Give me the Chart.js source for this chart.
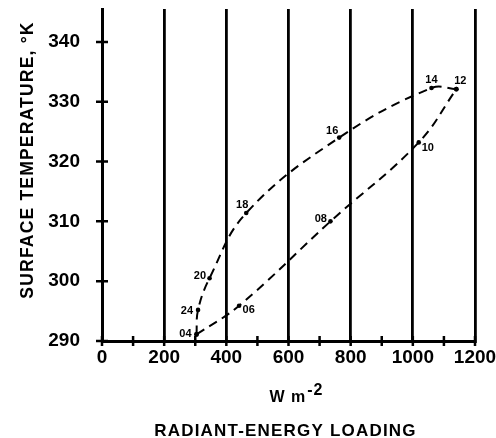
<!DOCTYPE html>
<html>
<head>
<meta charset="utf-8">
<script src="https://cdn.jsdelivr.net/npm/chart.js@4.4.1/dist/chart.umd.min.js"></script>
<style>
html,body{margin:0;padding:0;background:#fff;}
</style>
</head>
<body>
<canvas id="chart" width="496" height="438"></canvas>
<script>
// hour of day, radiant-energy loading (W m-2), surface temperature (K)
var hours=['04','06','08','10','12','14','16','18','20','24'],
    loading=[304,441,735,1019,1140,1060,763,464,346,309],
    surfaceTemp=[291.1,295.9,310.0,323.2,332.1,332.3,324.0,311.4,300.5,295.2],
    xTicks=[0,200,400,600,800,1000,1200],
    xMinorTicks=[100,300,500,700,900,1100],
    yTicks=[290,300,310,320,330,340];

// where each hour label sits next to its dot: dx, dy, align
var labelSpots={
    '04':[-5,0,'right'],'24':[-5,1.5,'right'],'20':[-3.5,-2.5,'right'],
    '18':[-4,-8,'center'],'06':[3.5,4,'left'],'08':[-3.5,-2.5,'right'],
    '10':[3,5.5,'left'],'12':[4,-8,'center'],'14':[0,-8,'center'],'16':[-7,-7,'center']
};

var font='"Liberation Sans", Arial, sans-serif';

var segment=function(idx){
    return idx.map(function(i){return {x:loading[i],y:surfaceTemp[i]};});
};
var lineStyle=function(data){
    return {
        data:data,showLine:true,tension:0.4,
        borderColor:'#000',borderWidth:2,borderDash:[9,6],
        pointRadius:2.3,pointBackgroundColor:'#000',pointBorderWidth:0
    };
};

var extras={
    id:'extras',
    afterDraw:function(chart){
        var ctx=chart.ctx,a=chart.chartArea,xs=chart.scales.x,ys=chart.scales.y;
        ctx.save();
        ctx.strokeStyle='#000';
        ctx.lineWidth=2.5;
        ctx.beginPath();
        xTicks.concat(xMinorTicks).forEach(function(v){
            var px=xs.getPixelForValue(v);
            ctx.moveTo(px,a.bottom-5);ctx.lineTo(px,a.bottom+5);
        });
        yTicks.forEach(function(v){
            var py=ys.getPixelForValue(v);
            ctx.moveTo(a.left-6,py);ctx.lineTo(a.left+6,py);
        });
        ctx.stroke();

        // hour labels
        ctx.fillStyle='#000';
        ctx.font='bold 11px '+font;
        ctx.textBaseline='middle';
        hours.forEach(function(h,i){
            var s=labelSpots[h];
            ctx.textAlign=s[2];
            ctx.fillText(h,xs.getPixelForValue(loading[i])+s[0],ys.getPixelForValue(surfaceTemp[i])+s[1]);
        });

        // axis titles
        var cx=(a.left+a.right)/2;
        ctx.textBaseline='alphabetic';
        ctx.letterSpacing='1.2px';
        ctx.font='bold 17px '+font;
        ctx.textAlign='center';
        ctx.fillText('RADIANT-ENERGY LOADING',cx-3,436);

        ctx.font='bold 16px '+font;
        ctx.letterSpacing='1px';
        var unit='W m',sup='-2';
        var w1=ctx.measureText(unit).width,w2=ctx.measureText(sup).width;
        var x0=cx+7.5-(w1+w2)/2;
        ctx.textAlign='left';
        ctx.fillText(unit,x0,401.5);
        ctx.fillText(sup,x0+w1+1,395);

        ctx.translate(33,160);
        ctx.rotate(-Math.PI/2);
        ctx.font='bold 17.5px '+font;
        ctx.letterSpacing='1.2px';
        ctx.textAlign='center';
        ctx.fillText('SURFACE TEMPERATURE, \u00b0K',0,0);
        ctx.restore();
    }
};

var tickFont={family:font,size:19,weight:'bold'};
var plain=function(v){return String(v);};

new Chart(document.getElementById('chart'),{
    type:'scatter',
    data:{
        datasets:[
            lineStyle(segment([0,1,2,3,4])),
            lineStyle(segment([4,5,6,7,8,9,0]))
        ]
    },
    options:{
        responsive:false,
        animation:false,
        devicePixelRatio:1,
        layout:{padding:{top:9,left:0,right:0,bottom:0}},
        plugins:{legend:{display:false},tooltip:{enabled:false}},
        scales:{
            x:{
                type:'linear',min:0,max:1200,
                afterBuildTicks:function(s){s.ticks=xTicks.map(function(v){return {value:v};});},
                afterFit:function(s){s.height=97;s.paddingLeft=0;s.paddingRight=21;},
                grid:{color:'#000',lineWidth:2.8,drawTicks:false},
                border:{color:'#000',width:3},
                ticks:{color:'#000',padding:5,font:tickFont,maxRotation:0,autoSkip:false,callback:plain}
            },
            y:{
                type:'linear',min:290,max:345.5,
                afterBuildTicks:function(s){s.ticks=yTicks.map(function(v){return {value:v};});},
                afterFit:function(s){s.width=102;s.paddingTop=0;s.paddingBottom=0;},
                grid:{display:false},
                border:{color:'#000',width:3},
                ticks:{color:'#000',padding:14,font:tickFont,callback:plain}
            }
        }
    },
    plugins:[extras]
});
</script>
</body>
</html>
